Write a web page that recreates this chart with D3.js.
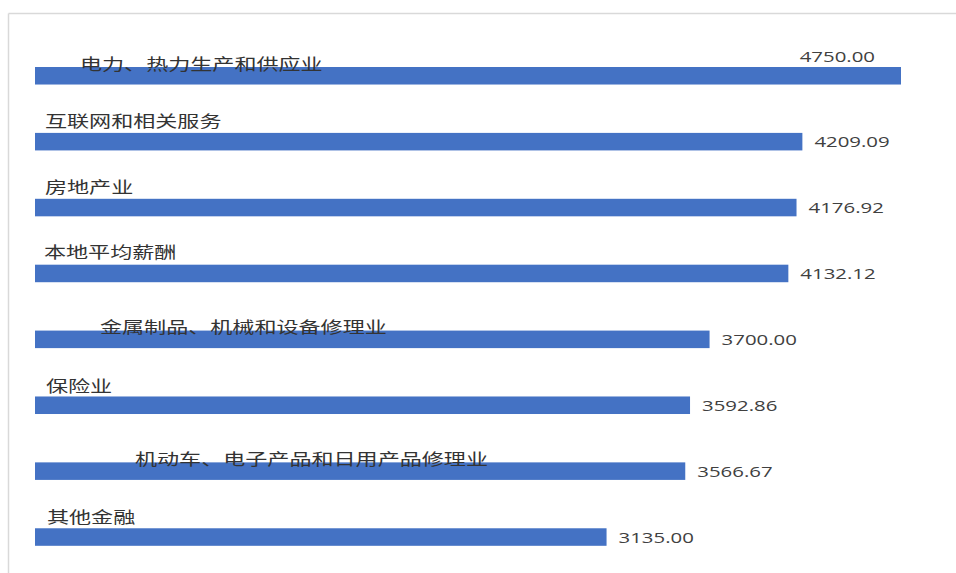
<!DOCTYPE html>
<meta charset="utf-8">
<script src="https://d3js.org/d3.v7.min.js"></script>
<head>
  <style>
    body { margin: 0; background: #fff; }
    .cat { font-family: "Noto Sans CJK SC", sans-serif; font-size: 16px; fill: #333; }
    .val { font-family: "Open Sans", "Noto Sans", sans-serif; font-size: 15px; fill: #404040; }
  </style>
</head>
<html><body>
<div id="viz"></div>
<script>
// data
const categories = ["电力、热力生产和供应业", "互联网和相关服务", "房地产业", "本地平均薪酬",
  "金属制品、机械和设备修理业", "保险业", "机动车、电子产品和日用产品修理业", "其他金融"];
const values = [4750.00, 4209.09, 4176.92, 4132.12, 3700.00, 3592.86, 3566.67, 3135.00];

// label placement (the original has odd indents on some labels)
const labelX = [80, 45, 45, 44, 100, 46, 135, 47];
const labelDy = [3, -6, -6, -7, 2, -4, 3, -5];

const W = 956, H = 573;
// text in the original is stretched sideways
const catStretch = 1.38, valStretch = 1.36;

const svg = d3.select("#viz").append("svg")
  .attr("width", W).attr("height", H);

// frame lines (top + left)
svg.append("line").attr("x1", 8.5).attr("x2", W).attr("y1", 13.5).attr("y2", 13.5)
  .attr("stroke", "#d9d9d9").attr("stroke-width", 1.5);
svg.append("line").attr("x1", 8.5).attr("x2", 8.5).attr("y1", 13.5).attr("y2", H)
  .attr("stroke", "#d9d9d9").attr("stroke-width", 1.5);

const x = d3.scaleLinear().domain([0, 4750]).range([35, 901]);
const y = d3.scaleBand().domain(categories).range([67, 545.8])
  .paddingInner(0.734).paddingOuter(0);

const fmt = d3.format(".2f");

const rows = categories.map((c, i) => ({ cat: c, val: values[i], i: i }));

// bars
svg.append("g").selectAll("rect")
  .data(rows)
  .join("rect")
    .attr("x", x(0))
    .attr("y", d => y(d.cat))
    .attr("width", d => x(d.val) - x(0))
    .attr("height", y.bandwidth())
    .attr("fill", "#4472c4");

// category labels, drawn over the bars
svg.append("g").selectAll("text")
  .data(rows)
  .join("text")
    .attr("class", "cat")
    .attr("transform", d => `translate(${labelX[d.i]},${y(d.cat) + labelDy[d.i]}) scale(${catStretch},1)`)
    .text(d => d.cat);

// value labels
svg.append("g").selectAll("text")
  .data(rows)
  .join("text")
    .attr("class", "val")
    .attr("text-anchor", d => d.i === 0 ? "end" : "start")
    .attr("transform", d => {
      if (d.i === 0) return `translate(${x(d.val) - 26},${y(d.cat) - 5}) scale(${valStretch},1)`;
      return `translate(${x(d.val) + 12},${y(d.cat) + y.bandwidth() / 2 + 5.5}) scale(${valStretch},1)`;
    })
    .text(d => fmt(d.val));
</script>
</body></html>
